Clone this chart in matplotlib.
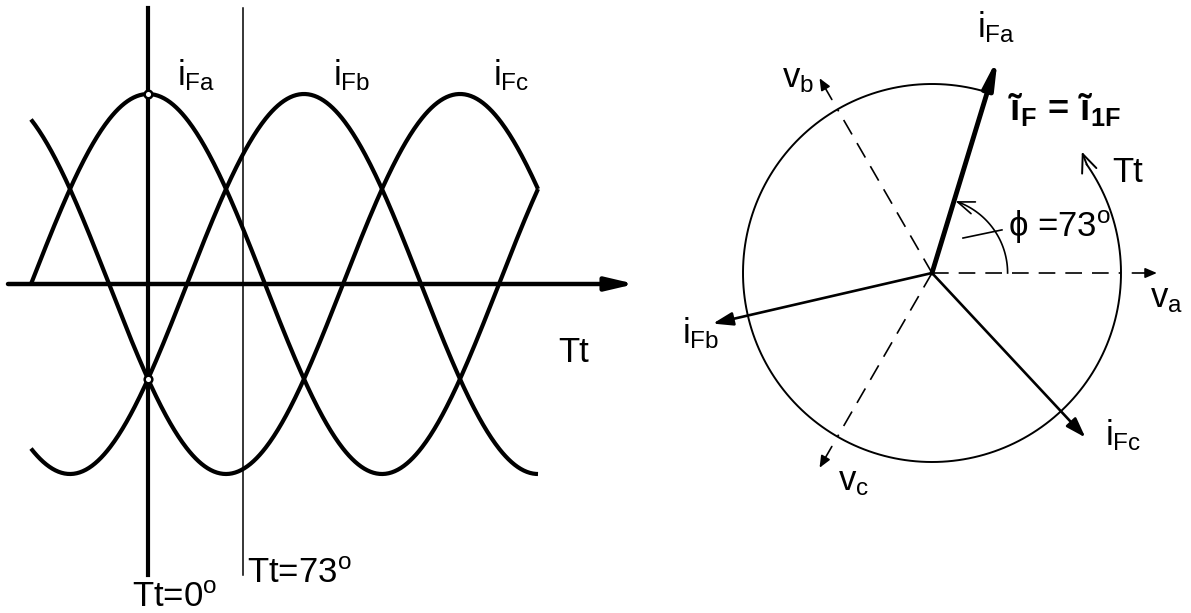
import numpy as np
import matplotlib.pyplot as plt

plt.rcParams['font.family'] = ['Liberation Sans', 'DejaVu Sans']
plt.rcParams['mathtext.fontset'] = 'custom'
plt.rcParams['mathtext.rm'] = 'Liberation Sans'
plt.rcParams['mathtext.it'] = 'Liberation Sans'
plt.rcParams['mathtext.bf'] = 'Liberation Sans:bold'

# --- waveforms (angle in degrees, per-unit amplitude) ---
wave_labels = [r'$i_{Fa}$', r'$i_{Fb}$', r'$i_{Fc}$']
wave_shift = [0, 120, 240]
wave_start, wave_end = -90, 300
marker_t = [0, 0]
marker_v = [1.0, -0.5]
phi = 73

# --- phasor diagram (circle radius = 1) ---
current_labels = [r'$i_{Fa}$', r'$i_{Fb}$', r'$i_{Fc}$']
current_angle = [73, 193, 313]
current_mag = 1.19
voltage_labels = [r'$v_a$', r'$v_b$', r'$v_c$']
voltage_angle = [0, 120, 240]
voltage_mag = 1.19

FS = 25

fig = plt.figure(figsize=(11.91, 6.13), dpi=100)

# left: pixel layout x_px = 148 + 1.3*deg, y_px = 284 - 190*v
axl = fig.add_axes([0, 0, 640 / 1191, 1])
axl.set_xlim(-148 / 1.3, 492 / 1.3)
axl.set_ylim((284 - 613) / 190, 284 / 190)
axl.axis('off')

theta = np.linspace(wave_start, wave_end, 500)
for shift in wave_shift:
    axl.plot(theta, np.cos(np.radians(theta - shift)), color='k', lw=3.0,
             solid_capstyle='butt')

# horizontal axis with arrow
axl.annotate('', xy=(374.6, 0), xytext=(-107.7, 0),
             arrowprops=dict(arrowstyle='-|>,head_length=1.7,head_width=0.4',
                             mutation_scale=10, lw=3.2, color='k',
                             shrinkA=0, shrinkB=0))
# vertical lines at Tt=0 and Tt=73
axl.plot([0, 0], [(284 - 575) / 190, (284 - 8) / 190], color='k', lw=3.0)
axl.plot([phi, phi], [(284 - 575) / 190, (284 - 8) / 190], color='k', lw=1.1)
axl.plot(marker_t, marker_v, 'o', ms=5.5, mfc='white', mec='k', mew=1.8)

for lab, tx in zip(wave_labels, [22.3, 142.3, 265.4]):
    axl.text(tx, 1.047, lab, fontsize=FS, ha='left', va='baseline')
axl.text(315.4, -0.41, 'Tt', fontsize=FS, ha='left', va='baseline')
axl.text(-12.3, (284 - 607) / 190, r'Tt=0$^{\mathrm{o}}$', fontsize=FS,
         ha='left', va='baseline')
axl.text(76.2, (284 - 583) / 190, r'Tt=73$^{\mathrm{o}}$', fontsize=FS,
         ha='left', va='baseline')

# right: phasor diagram, origin at px (932, 273), radius 189 px
axr = fig.add_axes([640 / 1191, 0, 551 / 1191, 1])
axr.set_xlim((640 - 932) / 189, (1191 - 932) / 189)
axr.set_ylim((273 - 613) / 189, 273 / 189)
axr.axis('off')

# circle arc with Tt arrow
arc = np.radians(np.linspace(phi, 395, 400))
axr.plot(np.cos(arc), np.sin(arc), color='k', lw=1.4)
a0, a1 = np.radians(395), np.radians(399)
axr.annotate('', xy=(1.02 * np.cos(a1), 1.02 * np.sin(a1)),
             xytext=(np.cos(a0), np.sin(a0)),
             arrowprops=dict(arrowstyle='->,head_length=1.3,head_width=0.55',
                             mutation_scale=10, lw=1.4, color='k',
                             shrinkA=0, shrinkB=0))

# voltage phasors (dashed)
for ang in voltage_angle:
    a = np.radians(ang)
    axr.plot([0, np.cos(a)], [0, np.sin(a)], color='k', lw=1.2,
             linestyle=(0, (10, 6)))
    axr.annotate('', xy=(voltage_mag * np.cos(a), voltage_mag * np.sin(a)),
                 xytext=(1.06 * np.cos(a), 1.06 * np.sin(a)),
                 arrowprops=dict(arrowstyle='-|>,head_length=0.7,head_width=0.3',
                                 mutation_scale=10, lw=1.2, color='k',
                                 shrinkA=0, shrinkB=0))

# current phasors
for i, ang in enumerate(current_angle):
    a = np.radians(ang)
    if i == 0:
        style, lw = '-|>,head_length=1.6,head_width=0.3', 3.5
    else:
        style, lw = '-|>,head_length=1.2,head_width=0.4', 1.9
    axr.annotate('', xy=(current_mag * np.cos(a), current_mag * np.sin(a)),
                 xytext=(0, 0),
                 arrowprops=dict(arrowstyle=style, mutation_scale=10, lw=lw,
                                 color='k', shrinkA=0, shrinkB=0))

# phi arc
pa = np.radians(np.linspace(0, phi - 4, 100))
axr.plot(0.40 * np.cos(pa), 0.40 * np.sin(pa), color='k', lw=1.2)
b0, b1 = np.radians(phi - 6), np.radians(phi - 1)
axr.annotate('', xy=(0.40 * np.cos(b1), 0.40 * np.sin(b1)),
             xytext=(0.40 * np.cos(b0), 0.40 * np.sin(b0)),
             arrowprops=dict(arrowstyle='->,head_length=1.2,head_width=0.45',
                             mutation_scale=10, lw=1.2, color='k',
                             shrinkA=0, shrinkB=0))
axr.plot([0.164, 0.37], [0.185, 0.228], color='k', lw=1.2)

# labels
axr.text(0.238, 1.249, current_labels[0], fontsize=FS, ha='left', va='baseline')
axr.text(-1.323, -0.37, current_labels[1], fontsize=FS, ha='left', va='baseline')
axr.text(0.915, -0.91, current_labels[2], fontsize=FS, ha='left', va='baseline')
axr.text(1.153, -0.18, voltage_labels[0], fontsize=FS, ha='left', va='baseline')
axr.text(-0.794, 0.984, voltage_labels[1], fontsize=FS, ha='left', va='baseline')
axr.text(-0.497, -1.148, voltage_labels[2], fontsize=FS, ha='left', va='baseline')
axr.text(0.402, 0.809, '$\\mathbf{\u0129_{F}\\,=\\,\u0129_{1F}}$',
         fontsize=26, ha='left', va='baseline')
axr.text(0.402, 0.19, '\u03d5 =73$^{\\mathrm{o}}$', fontsize=FS, ha='left',
         va='baseline')
axr.text(0.952, 0.481, 'Tt', fontsize=FS, ha='left', va='baseline')

fig.savefig('out.png', dpi=100)
